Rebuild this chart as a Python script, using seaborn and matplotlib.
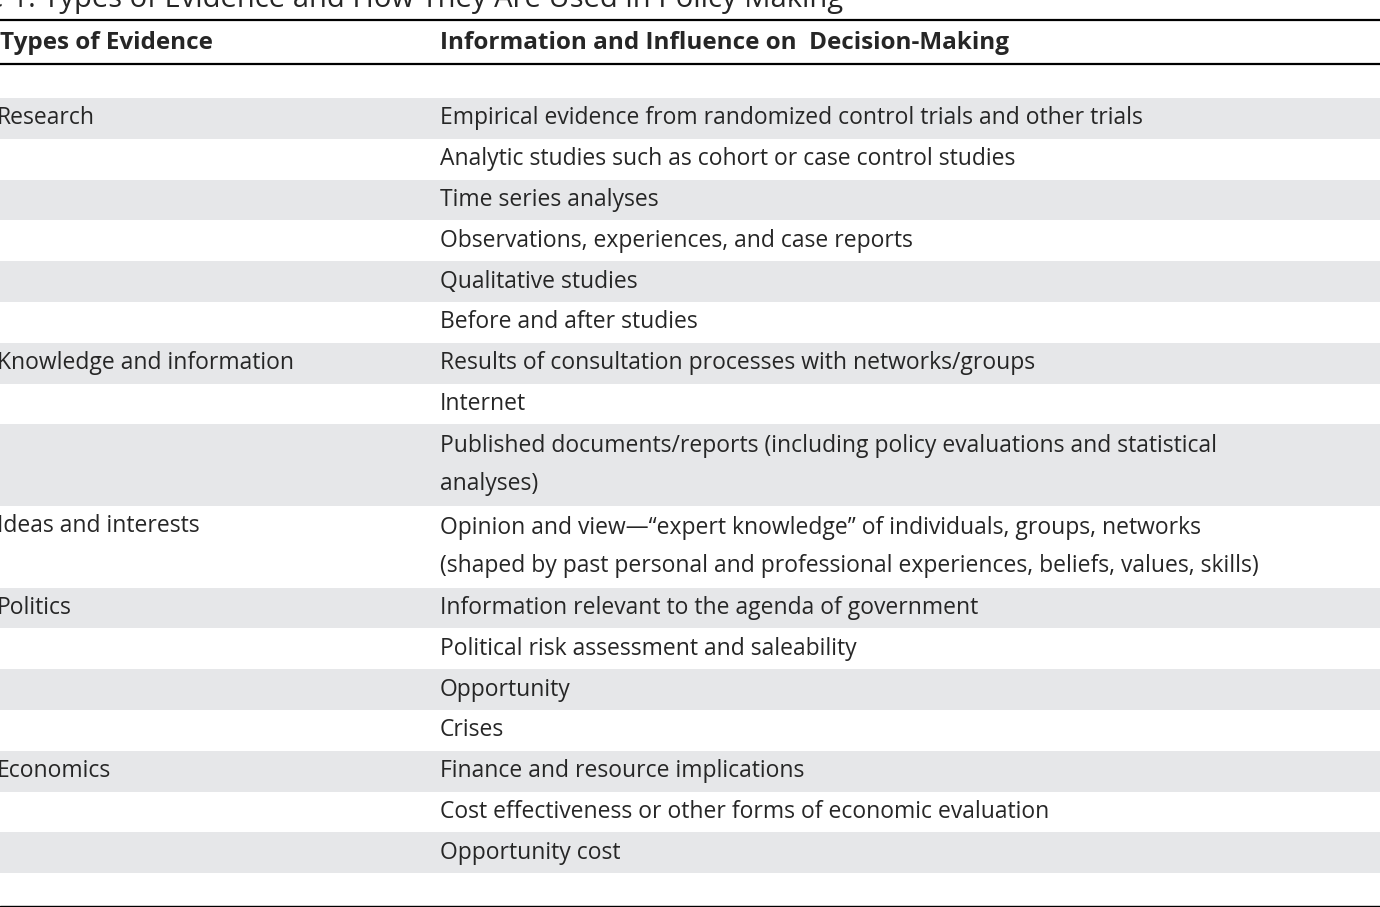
import matplotlib.pyplot as plt
import seaborn as sns

sns.set_theme(style="white")
plt.rcParams['font.family'] = ['Open Sans', 'DejaVu Sans']

title = "Table 1. Types of Evidence and How They Are Used in Policy Making"
headers = ["Types of Evidence", "Information and Influence on  Decision-Making"]
types = ["", "Research", "", "", "", "", "", "Knowledge and information", "",
         "", "Ideas and interests", "Politics", "", "", "", "Economics", "", "", ""]
info = [
    "",
    "Empirical evidence from randomized control trials and other trials",
    "Analytic studies such as cohort or case control studies",
    "Time series analyses",
    "Observations, experiences, and case reports",
    "Qualitative studies",
    "Before and after studies",
    "Results of consultation processes with networks/groups",
    "Internet",
    "Published documents/reports (including policy evaluations and statistical\nanalyses)",
    "Opinion and view\u2014\u201cexpert knowledge\u201d of individuals, groups, networks\n(shaped by past personal and professional experiences, beliefs, values, skills)",
    "Information relevant to the agenda of government",
    "Political risk assessment and saleability",
    "Opportunity",
    "Crises",
    "Finance and resource implications",
    "Cost effectiveness or other forms of economic evaluation",
    "Opportunity cost",
    "",
]
shaded = [False, True, False, True, False, True, False, True, False, True,
          False, True, False, True, False, True, False, True, False]

fig = plt.figure(figsize=(13.8, 9.07), dpi=100)
ax = fig.add_axes([0, 0, 1, 1])
ax.set_xlim(0, 1380)
ax.set_ylim(907, 0)
ax.axis("off")

ax.text(-70, 0, title, fontsize=21, va="center", ha="left")
ax.axhline(20, color="black", lw=1.6)
ax.axhline(64, color="black", lw=1.6)
ax.text(0, 43, headers[0], fontsize=17.5, fontweight="bold", va="center")
ax.text(440, 43, headers[1], fontsize=17.5, fontweight="bold", va="center")

row_h = 40.8
y = 65
for i, (t, s) in enumerate(zip(types, info)):
    n = s.count("\n") + 1
    h = 33 if i in (0, len(types) - 1) else row_h * n
    if shaded[i]:
        ax.axhspan(y, y + h, color="#e6e7e9", lw=0, zorder=0)
    ax.text(-3, y + row_h / 2, t, fontsize=16.5, va="center")
    ax.text(440, y + h / 2, s, fontsize=16.5, va="center", linespacing=1.75)
    y += h
ax.axhline(906, color="black", lw=1)

fig.savefig("out.png", dpi=100)
